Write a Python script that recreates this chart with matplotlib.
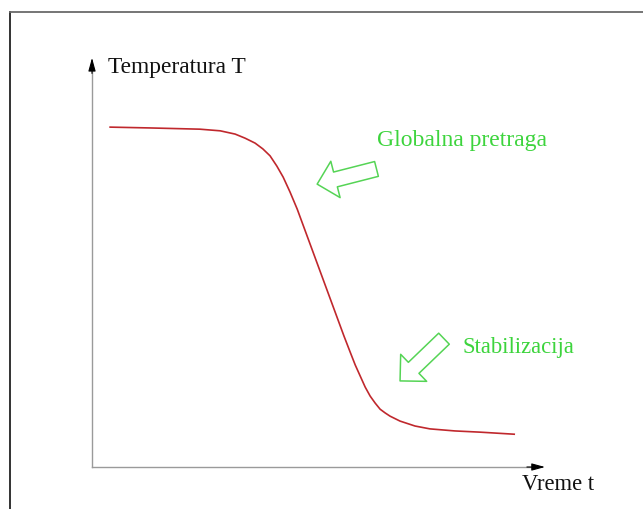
import matplotlib
matplotlib.use('Agg')
import matplotlib.pyplot as plt
from matplotlib.lines import Line2D

# temperature curve (time t, temperature T)
vreme = [0.40, 1.28, 2.38, 2.83, 3.16, 3.38, 3.60, 3.77, 3.93, 4.08, 4.22,
         4.37, 4.53, 4.66, 4.81, 4.94, 5.10, 5.26, 5.41, 5.56, 5.70, 5.81,
         5.92, 6.03, 6.14, 6.25, 6.36, 6.47, 6.58, 6.80, 7.13, 7.46, 8.01,
         8.57, 9.32]
temperatura = [8.29, 8.27, 8.24, 8.20, 8.12, 8.02, 7.90, 7.76, 7.59, 7.34, 7.07,
               6.71, 6.29, 5.90, 5.45, 5.06, 4.58, 4.10, 3.65, 3.20, 2.80, 2.49,
               2.22, 1.95, 1.73, 1.56, 1.41, 1.32, 1.24, 1.12, 1.00, 0.93, 0.88,
               0.85, 0.80]

labels = ['Temperatura T', 'Vreme t']
notes = ['Globalna pretraga', 'Stabilizacija']

RED = '#c0282d'
GREEN = '#3dd43d'
ARROW_GREEN = '#55d455'
GRAY = '#9a9a9a'


def main():
    fig = plt.figure(figsize=(6.43, 5.10), dpi=100)
    ax = fig.add_axes([0, 0, 1, 1])
    ax.set_xlim(-2.031, 12.163)
    ax.set_ylim(-1.024, 11.415)
    ax.axis('off')

    # outer frame (only top and left edges visible)
    fig.add_artist(Line2D([10 / 643, 10 / 643], [0, 1 - 13 / 510],
                          color='#222222', lw=1.3, transform=fig.transFigure))
    fig.add_artist(Line2D([10 / 643, 1], [1 - 13 / 510, 1 - 13 / 510],
                          color='#6a6a6a', lw=1.3, transform=fig.transFigure))

    # axes with black arrow heads
    ax.plot([0, 0], [0, 9.7], color=GRAY, lw=1.0)
    ax.plot([0, 9.7], [0, 0], color=GRAY, lw=1.0)
    head = dict(arrowstyle='-|>,head_length=0.8,head_width=0.22', color='black',
                lw=0.8, shrinkA=0, shrinkB=0, mutation_scale=10)
    ax.annotate('', xy=(0, 9.98), xytext=(0, 9.6), arrowprops=head)
    ax.annotate('', xy=(10, 0), xytext=(9.6, 0), arrowprops=head)

    ax.text(0.35, 9.76, labels[0], family='Liberation Serif', fontsize=16.8,
            ha='left', va='center', color='#111111')
    ax.text(9.49, -0.39, labels[1], family='Liberation Serif', fontsize=16.3,
            ha='left', va='center', color='#111111')

    ax.plot(vreme, temperatura, color=RED, lw=1.2)

    # hollow block arrows
    block = dict(arrowstyle='simple,head_length=0.68,head_width=1.35,tail_width=0.55',
                 fc='none', ec=ARROW_GREEN, lw=1.1, shrinkA=0, shrinkB=0,
                 mutation_scale=20)
    ax.annotate('', xy=(4.97, 6.90), xytext=(6.28, 7.27), arrowprops=block)
    ax.annotate('', xy=(6.80, 2.10), xytext=(7.77, 3.13), arrowprops=block)

    ax.text(6.29, 8.0, notes[0], family='Liberation Serif', fontsize=17,
            ha='left', va='center', color=GREEN)
    ax.text(8.17, 2.93, notes[1], family='Liberation Serif', fontsize=16.3,
            ha='left', va='center', color=GREEN)

    fig.savefig('out.png', dpi=100)


if __name__ == '__main__':
    main()
